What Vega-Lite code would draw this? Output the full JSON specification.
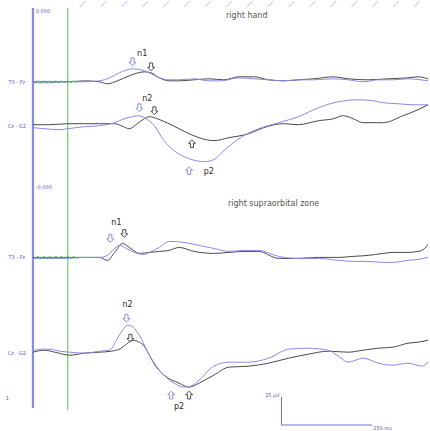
{
"$schema": "https://vega.github.io/schema/vega-lite/v6.json",
"width": 430, "height": 431,
"autosize": {"type": "fit", "contains": "padding"},
"padding": 0,
"background": "white",
"config": {"view": {"stroke": null}},
"datasets": {
"traces": [
{"s":"A1k","c":"k","t":-97,"v":81},{"s":"A1k","c":"k","t":-50,"v":81},{"s":"A1k","c":"k","t":0,"v":81},{"s":"A1k","c":"k","t":47,"v":80},{"s":"A1k","c":"k","t":89,"v":81},{"s":"A1k","c":"k","t":111,"v":83},{"s":"A1k","c":"k","t":139,"v":80},{"s":"A1k","c":"k","t":172,"v":75},{"s":"A1k","c":"k","t":214,"v":71},{"s":"A1k","c":"k","t":233,"v":72},{"s":"A1k","c":"k","t":256,"v":77},{"s":"A1k","c":"k","t":283,"v":80},{"s":"A1k","c":"k","t":311,"v":80},{"s":"A1k","c":"k","t":353,"v":79},{"s":"A1k","c":"k","t":394,"v":78},{"s":"A1k","c":"k","t":436,"v":79},{"s":"A1k","c":"k","t":478,"v":76},{"s":"A1k","c":"k","t":519,"v":76},{"s":"A1k","c":"k","t":561,"v":79},{"s":"A1k","c":"k","t":603,"v":80},{"s":"A1k","c":"k","t":644,"v":79},{"s":"A1k","c":"k","t":686,"v":78},{"s":"A1k","c":"k","t":742,"v":76},{"s":"A1k","c":"k","t":783,"v":78},{"s":"A1k","c":"k","t":839,"v":79},{"s":"A1k","c":"k","t":894,"v":78},{"s":"A1k","c":"k","t":950,"v":77},{"s":"A1k","c":"k","t":978,"v":76},{"s":"A1k","c":"k","t":1006,"v":78},
{"s":"A1b","c":"b","t":-97,"v":82},{"s":"A1b","c":"b","t":-50,"v":82},{"s":"A1b","c":"b","t":0,"v":81},{"s":"A1b","c":"b","t":47,"v":81},{"s":"A1b","c":"b","t":89,"v":80},{"s":"A1b","c":"b","t":117,"v":77},{"s":"A1b","c":"b","t":144,"v":72},{"s":"A1b","c":"b","t":181,"v":68},{"s":"A1b","c":"b","t":206,"v":69},{"s":"A1b","c":"b","t":228,"v":72},{"s":"A1b","c":"b","t":256,"v":77},{"s":"A1b","c":"b","t":283,"v":79},{"s":"A1b","c":"b","t":311,"v":79},{"s":"A1b","c":"b","t":353,"v":78},{"s":"A1b","c":"b","t":394,"v":80},{"s":"A1b","c":"b","t":428,"v":80},{"s":"A1b","c":"b","t":478,"v":77},{"s":"A1b","c":"b","t":519,"v":78},{"s":"A1b","c":"b","t":561,"v":79},{"s":"A1b","c":"b","t":603,"v":80},{"s":"A1b","c":"b","t":644,"v":79},{"s":"A1b","c":"b","t":686,"v":79},{"s":"A1b","c":"b","t":742,"v":78},{"s":"A1b","c":"b","t":783,"v":79},{"s":"A1b","c":"b","t":825,"v":81},{"s":"A1b","c":"b","t":867,"v":79},{"s":"A1b","c":"b","t":908,"v":79},{"s":"A1b","c":"b","t":950,"v":78},{"s":"A1b","c":"b","t":1006,"v":80},
{"s":"A2k","c":"k","t":-97,"v":124},{"s":"A2k","c":"k","t":-50,"v":124},{"s":"A2k","c":"k","t":0,"v":123},{"s":"A2k","c":"k","t":47,"v":123},{"s":"A2k","c":"k","t":89,"v":123},{"s":"A2k","c":"k","t":131,"v":123},{"s":"A2k","c":"k","t":150,"v":125},{"s":"A2k","c":"k","t":172,"v":128},{"s":"A2k","c":"k","t":194,"v":123},{"s":"A2k","c":"k","t":214,"v":118},{"s":"A2k","c":"k","t":228,"v":116},{"s":"A2k","c":"k","t":250,"v":118},{"s":"A2k","c":"k","t":283,"v":123},{"s":"A2k","c":"k","t":311,"v":128},{"s":"A2k","c":"k","t":339,"v":133},{"s":"A2k","c":"k","t":367,"v":137},{"s":"A2k","c":"k","t":408,"v":140},{"s":"A2k","c":"k","t":450,"v":137},{"s":"A2k","c":"k","t":506,"v":133},{"s":"A2k","c":"k","t":547,"v":127},{"s":"A2k","c":"k","t":603,"v":123},{"s":"A2k","c":"k","t":644,"v":124},{"s":"A2k","c":"k","t":700,"v":120},{"s":"A2k","c":"k","t":742,"v":118},{"s":"A2k","c":"k","t":769,"v":115},{"s":"A2k","c":"k","t":797,"v":118},{"s":"A2k","c":"k","t":825,"v":122},{"s":"A2k","c":"k","t":881,"v":122},{"s":"A2k","c":"k","t":936,"v":115},{"s":"A2k","c":"k","t":978,"v":109},{"s":"A2k","c":"k","t":1006,"v":104},
{"s":"A2b","c":"b","t":-97,"v":127},{"s":"A2b","c":"b","t":-64,"v":128},{"s":"A2b","c":"b","t":-22,"v":129},{"s":"A2b","c":"b","t":0,"v":128},{"s":"A2b","c":"b","t":47,"v":126},{"s":"A2b","c":"b","t":89,"v":125},{"s":"A2b","c":"b","t":131,"v":122},{"s":"A2b","c":"b","t":158,"v":118},{"s":"A2b","c":"b","t":181,"v":116},{"s":"A2b","c":"b","t":200,"v":115},{"s":"A2b","c":"b","t":219,"v":118},{"s":"A2b","c":"b","t":242,"v":125},{"s":"A2b","c":"b","t":269,"v":140},{"s":"A2b","c":"b","t":297,"v":150},{"s":"A2b","c":"b","t":339,"v":158},{"s":"A2b","c":"b","t":381,"v":161},{"s":"A2b","c":"b","t":408,"v":159},{"s":"A2b","c":"b","t":436,"v":150},{"s":"A2b","c":"b","t":478,"v":138},{"s":"A2b","c":"b","t":533,"v":128},{"s":"A2b","c":"b","t":589,"v":122},{"s":"A2b","c":"b","t":644,"v":116},{"s":"A2b","c":"b","t":700,"v":107},{"s":"A2b","c":"b","t":756,"v":101},{"s":"A2b","c":"b","t":811,"v":99},{"s":"A2b","c":"b","t":853,"v":100},{"s":"A2b","c":"b","t":881,"v":102},{"s":"A2b","c":"b","t":922,"v":103},{"s":"A2b","c":"b","t":964,"v":104},{"s":"A2b","c":"b","t":1006,"v":104},
{"s":"B1k","c":"k","t":-97,"v":257},{"s":"B1k","c":"k","t":-50,"v":257},{"s":"B1k","c":"k","t":0,"v":257},{"s":"B1k","c":"k","t":47,"v":257},{"s":"B1k","c":"k","t":89,"v":257},{"s":"B1k","c":"k","t":111,"v":260},{"s":"B1k","c":"k","t":131,"v":252},{"s":"B1k","c":"k","t":153,"v":243},{"s":"B1k","c":"k","t":172,"v":247},{"s":"B1k","c":"k","t":200,"v":253},{"s":"B1k","c":"k","t":228,"v":252},{"s":"B1k","c":"k","t":256,"v":251},{"s":"B1k","c":"k","t":283,"v":250},{"s":"B1k","c":"k","t":311,"v":247},{"s":"B1k","c":"k","t":353,"v":251},{"s":"B1k","c":"k","t":408,"v":253},{"s":"B1k","c":"k","t":450,"v":252},{"s":"B1k","c":"k","t":492,"v":251},{"s":"B1k","c":"k","t":533,"v":251},{"s":"B1k","c":"k","t":589,"v":258},{"s":"B1k","c":"k","t":644,"v":258},{"s":"B1k","c":"k","t":700,"v":257},{"s":"B1k","c":"k","t":756,"v":257},{"s":"B1k","c":"k","t":797,"v":256},{"s":"B1k","c":"k","t":839,"v":255},{"s":"B1k","c":"k","t":881,"v":253},{"s":"B1k","c":"k","t":908,"v":252},{"s":"B1k","c":"k","t":950,"v":252},{"s":"B1k","c":"k","t":978,"v":251},{"s":"B1k","c":"k","t":997,"v":248},{"s":"B1k","c":"k","t":1006,"v":244},
{"s":"B1b","c":"b","t":-97,"v":258},{"s":"B1b","c":"b","t":-50,"v":258},{"s":"B1b","c":"b","t":0,"v":258},{"s":"B1b","c":"b","t":47,"v":257},{"s":"B1b","c":"b","t":89,"v":257},{"s":"B1b","c":"b","t":111,"v":255},{"s":"B1b","c":"b","t":128,"v":249},{"s":"B1b","c":"b","t":144,"v":245},{"s":"B1b","c":"b","t":164,"v":248},{"s":"B1b","c":"b","t":186,"v":252},{"s":"B1b","c":"b","t":214,"v":254},{"s":"B1b","c":"b","t":233,"v":251},{"s":"B1b","c":"b","t":256,"v":247},{"s":"B1b","c":"b","t":283,"v":241},{"s":"B1b","c":"b","t":325,"v":242},{"s":"B1b","c":"b","t":367,"v":245},{"s":"B1b","c":"b","t":408,"v":248},{"s":"B1b","c":"b","t":450,"v":251},{"s":"B1b","c":"b","t":492,"v":250},{"s":"B1b","c":"b","t":533,"v":250},{"s":"B1b","c":"b","t":589,"v":256},{"s":"B1b","c":"b","t":644,"v":258},{"s":"B1b","c":"b","t":700,"v":258},{"s":"B1b","c":"b","t":756,"v":260},{"s":"B1b","c":"b","t":797,"v":261},{"s":"B1b","c":"b","t":839,"v":261},{"s":"B1b","c":"b","t":881,"v":262},{"s":"B1b","c":"b","t":908,"v":262},{"s":"B1b","c":"b","t":950,"v":260},{"s":"B1b","c":"b","t":978,"v":259},{"s":"B1b","c":"b","t":1006,"v":257},
{"s":"B2k","c":"k","t":-97,"v":352},{"s":"B2k","c":"k","t":-64,"v":350},{"s":"B2k","c":"k","t":-36,"v":352},{"s":"B2k","c":"k","t":6,"v":355},{"s":"B2k","c":"k","t":47,"v":353},{"s":"B2k","c":"k","t":89,"v":352},{"s":"B2k","c":"k","t":122,"v":351},{"s":"B2k","c":"k","t":144,"v":349},{"s":"B2k","c":"k","t":164,"v":344},{"s":"B2k","c":"k","t":181,"v":340},{"s":"B2k","c":"k","t":200,"v":342},{"s":"B2k","c":"k","t":214,"v":346},{"s":"B2k","c":"k","t":228,"v":355},{"s":"B2k","c":"k","t":242,"v":364},{"s":"B2k","c":"k","t":269,"v":375},{"s":"B2k","c":"k","t":311,"v":383},{"s":"B2k","c":"k","t":339,"v":387},{"s":"B2k","c":"k","t":367,"v":383},{"s":"B2k","c":"k","t":408,"v":375},{"s":"B2k","c":"k","t":450,"v":367},{"s":"B2k","c":"k","t":506,"v":366},{"s":"B2k","c":"k","t":561,"v":363},{"s":"B2k","c":"k","t":617,"v":358},{"s":"B2k","c":"k","t":672,"v":354},{"s":"B2k","c":"k","t":728,"v":351},{"s":"B2k","c":"k","t":783,"v":352},{"s":"B2k","c":"k","t":825,"v":350},{"s":"B2k","c":"k","t":867,"v":348},{"s":"B2k","c":"k","t":908,"v":347},{"s":"B2k","c":"k","t":950,"v":343},{"s":"B2k","c":"k","t":978,"v":342},{"s":"B2k","c":"k","t":1006,"v":340},
{"s":"B2b","c":"b","t":-97,"v":351},{"s":"B2b","c":"b","t":-78,"v":349},{"s":"B2b","c":"b","t":-50,"v":349},{"s":"B2b","c":"b","t":-22,"v":351},{"s":"B2b","c":"b","t":6,"v":352},{"s":"B2b","c":"b","t":47,"v":353},{"s":"B2b","c":"b","t":89,"v":351},{"s":"B2b","c":"b","t":117,"v":350},{"s":"B2b","c":"b","t":139,"v":338},{"s":"B2b","c":"b","t":153,"v":330},{"s":"B2b","c":"b","t":167,"v":325},{"s":"B2b","c":"b","t":183,"v":327},{"s":"B2b","c":"b","t":200,"v":335},{"s":"B2b","c":"b","t":228,"v":355},{"s":"B2b","c":"b","t":256,"v":370},{"s":"B2b","c":"b","t":297,"v":383},{"s":"B2b","c":"b","t":325,"v":387},{"s":"B2b","c":"b","t":344,"v":386},{"s":"B2b","c":"b","t":367,"v":380},{"s":"B2b","c":"b","t":408,"v":366},{"s":"B2b","c":"b","t":450,"v":362},{"s":"B2b","c":"b","t":506,"v":362},{"s":"B2b","c":"b","t":561,"v":358},{"s":"B2b","c":"b","t":617,"v":349},{"s":"B2b","c":"b","t":672,"v":348},{"s":"B2b","c":"b","t":728,"v":350},{"s":"B2b","c":"b","t":756,"v":356},{"s":"B2b","c":"b","t":783,"v":362},{"s":"B2b","c":"b","t":825,"v":358},{"s":"B2b","c":"b","t":867,"v":363},{"s":"B2b","c":"b","t":908,"v":365},{"s":"B2b","c":"b","t":950,"v":363},{"s":"B2b","c":"b","t":989,"v":366},{"s":"B2b","c":"b","t":1006,"v":362}
],
"noise": [
{"s":"G1","t":-92,"v":82},{"s":"G1","t":-83,"v":80},{"s":"G1","t":-75,"v":82},{"s":"G1","t":-67,"v":80},{"s":"G1","t":-58,"v":82},{"s":"G1","t":-50,"v":80},{"s":"G1","t":-42,"v":82},{"s":"G1","t":-33,"v":80},{"s":"G1","t":-25,"v":82},{"s":"G1","t":-17,"v":80},{"s":"G1","t":-8,"v":82},{"s":"G1","t":0,"v":80},{"s":"G1","t":8,"v":82},{"s":"G1","t":17,"v":80},{"s":"G1","t":25,"v":82},
{"s":"G2","t":-92,"v":258},{"s":"G2","t":-83,"v":256},{"s":"G2","t":-75,"v":258},{"s":"G2","t":-67,"v":256},{"s":"G2","t":-58,"v":258},{"s":"G2","t":-50,"v":256},{"s":"G2","t":-42,"v":258},{"s":"G2","t":-33,"v":256},{"s":"G2","t":-25,"v":258},{"s":"G2","t":-17,"v":256},{"s":"G2","t":-8,"v":258},{"s":"G2","t":0,"v":256},{"s":"G2","t":8,"v":258},{"s":"G2","t":17,"v":256},{"s":"G2","t":25,"v":258}
],
"stripes": [
{"t":33,"v":6,"t2":50,"v2":0},{"t":92,"v":6,"t2":108,"v2":0},{"t":150,"v":6,"t2":167,"v2":0},{"t":208,"v":6,"t2":225,"v2":0},{"t":267,"v":6,"t2":283,"v2":0},{"t":325,"v":6,"t2":342,"v2":0},{"t":383,"v":6,"t2":400,"v2":0},{"t":442,"v":6,"t2":458,"v2":0},{"t":500,"v":6,"t2":517,"v2":0},{"t":558,"v":6,"t2":575,"v2":0},{"t":617,"v":6,"t2":633,"v2":0},{"t":675,"v":6,"t2":692,"v2":0},{"t":733,"v":6,"t2":750,"v2":0},{"t":792,"v":6,"t2":808,"v2":0},{"t":850,"v":6,"t2":867,"v2":0},{"t":908,"v":6,"t2":925,"v2":0},{"t":967,"v":6,"t2":983,"v2":0}
],
"downArrows": [
{"c":"b","t":181,"v":61},{"c":"k","t":233,"v":66},{"c":"b","t":200,"v":107},{"c":"k","t":242,"v":110},
{"c":"b","t":119,"v":238},{"c":"k","t":158,"v":233},{"c":"b","t":164,"v":318},{"c":"k","t":175,"v":338}
],
"upArrows": [
{"c":"b","t":339,"v":170},{"c":"k","t":347,"v":143},{"c":"b","t":289,"v":395},{"c":"k","t":339,"v":395}
],
"peaks": [
{"txt":"n1","t":208,"v":53},{"txt":"n2","t":222,"v":98},{"txt":"p2","t":394,"v":171},
{"txt":"n1","t":136,"v":223},{"txt":"n2","t":167,"v":305},{"txt":"p2","t":311,"v":407}
]
},
"encoding": {
"x": {"field":"t","type":"quantitative","scale":{"domain":[-189,1006],"nice":false,"zero":false},"axis":null},
"y": {"field":"v","type":"quantitative","scale":{"domain":[0,431],"nice":false,"zero":false,"reverse":true},"axis":null}
},
"layer": [
{"data":{"name":"stripes"},"mark":{"type":"rule","color":"#cfdcf2","strokeWidth":1.3},
 "encoding":{"x2":{"field":"t2"},"y2":{"field":"v2"}}},
{"data":{"values":[{"t":-97,"v":7,"v2":408}]},"mark":{"type":"rule","color":"#8a8ade","strokeWidth":2.2},
 "encoding":{"y2":{"field":"v2"}}},
{"data":{"values":[{"t":0,"v":7,"v2":410}]},"mark":{"type":"rule","color":"#7fd67f","strokeWidth":1.4},
 "encoding":{"y2":{"field":"v2"}}},
{"data":{"values":[{"t":597,"v":397,"t2":597,"v2":425},{"t":597,"v":425,"t2":850,"v2":425}]},"mark":{"type":"rule","color":"#7070d8","strokeWidth":1},
 "encoding":{"x2":{"field":"t2"},"y2":{"field":"v2"}}},
{"data":{"name":"traces"},"mark":{"type":"line","strokeWidth":1,"interpolate":"monotone"},
 "encoding":{"detail":{"field":"s"},"color":{"field":"c","type":"nominal","scale":{"domain":["k","b"],"range":["#4a4a4a","#8a8ae6"]},"legend":null}}},
{"data":{"name":"noise"},"mark":{"type":"line","color":"#55c855","strokeWidth":1},
 "encoding":{"detail":{"field":"s"}}},
{"data":{"name":"downArrows"},"mark":{"type":"point","shape":"M-0.4,-1L0.4,-1L0.4,0.1L0.9,0.1L0,1L-0.9,0.1L-0.4,0.1Z","filled":false,"size":60,"strokeWidth":1,"opacity":1},
 "encoding":{"color":{"field":"c","type":"nominal","legend":null}}},
{"data":{"name":"upArrows"},"mark":{"type":"point","shape":"M-0.4,1L0.4,1L0.4,-0.1L0.9,-0.1L0,-1L-0.9,-0.1L-0.4,-0.1Z","filled":false,"size":60,"strokeWidth":1,"opacity":1},
 "encoding":{"color":{"field":"c","type":"nominal","legend":null}}},
{"data":{"name":"peaks"},"mark":{"type":"text","font":"DejaVu Sans","fontSize":8,"color":"#2a2a2a","align":"center","baseline":"middle"},
 "encoding":{"text":{"field":"txt"}}},
{"data":{"values":[{"txt":"right hand","t":500,"v":15},{"txt":"right supraorbital zone","t":575,"v":203}]},"mark":{"type":"text","font":"DejaVu Sans","fontSize":8,"color":"#555555","align":"center","baseline":"middle"},
 "encoding":{"text":{"field":"txt"}}},
{"data":{"values":[{"txt":"T3 - Fz","t":-142,"v":81},{"txt":"Cz - G2","t":-142,"v":125},{"txt":"T3 - Fz","t":-142,"v":257},{"txt":"Cz - G2","t":-142,"v":353}]},"mark":{"type":"text","font":"DejaVu Sans","fontSize":5,"color":"#5a5ac8","align":"center","baseline":"middle"},
 "encoding":{"text":{"field":"txt"}}},
{"data":{"values":[{"txt":"0.000","t":-89,"v":10},{"txt":"-0.000","t":-89,"v":186},{"txt":"250 ms","t":853,"v":428}]},"mark":{"type":"text","font":"DejaVu Sans","fontSize":5,"color":"#5a5ac8","align":"left","baseline":"middle"},
 "encoding":{"text":{"field":"txt"}}},
{"data":{"values":[{"txt":"25 µV","t":592,"v":395},{"txt":"1","t":-164,"v":398}]},"mark":{"type":"text","font":"DejaVu Sans","fontSize":5,"color":"#5a5ac8","align":"right","baseline":"middle"},
 "encoding":{"text":{"field":"txt"}}}
]
}
